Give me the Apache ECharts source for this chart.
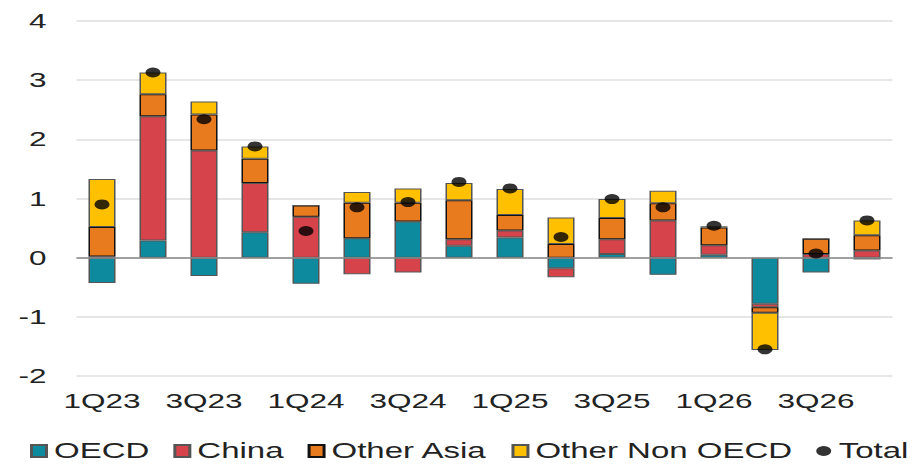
<!DOCTYPE html>
<html>
<head>
<meta charset="utf-8">
<script src="https://cdn.jsdelivr.net/npm/echarts@6/dist/echarts.min.js"></script>
<style>
  html, body { margin: 0; padding: 0; background: #fff; overflow: hidden; }
  #wrap { width: 918px; height: 464px; overflow: hidden; }
  #chart { width: 612px; height: 464px; transform: scaleX(1.5); transform-origin: 0 0; }
</style>
</head>
<body>
<div id="wrap"><div id="chart"></div></div>
<script>
const categories = ['1Q23','2Q23','3Q23','4Q23','1Q24','2Q24','3Q24','4Q24','1Q25','2Q25','3Q25','4Q25','1Q26','2Q26','3Q26','4Q26'];
const oecd         = [-0.43, 0.29, -0.31, 0.43, -0.44, 0.33, 0.61, 0.20, 0.34, -0.18, 0.06, -0.29, 0.05, -0.78, -0.25, -0.03];
const china        = [0.02, 2.10, 1.81, 0.83, 0.69, -0.28, -0.25, 0.11, 0.12, -0.15, 0.25, 0.63, 0.16, -0.06, 0.06, 0.12];
const otherAsia    = [0.50, 0.37, 0.61, 0.41, 0.19, 0.60, 0.32, 0.66, 0.26, 0.23, 0.36, 0.29, 0.30, -0.09, 0.26, 0.26];
const otherNonOECD = [0.81, 0.37, 0.22, 0.21, 0.00, 0.18, 0.24, 0.29, 0.44, 0.45, 0.32, 0.21, 0.02, -0.63, 0.00, 0.25];
const total        = [0.90, 3.13, 2.34, 1.88, 0.45, 0.85, 0.94, 1.28, 1.17, 0.35, 0.99, 0.85, 0.54, -1.55, 0.07, 0.63];
const yMin = -2, yMax = 4, yStep = 1;

const FONT = "'Liberation Sans', Arial, sans-serif";
const chart = echarts.init(document.getElementById('chart'), null, { renderer: 'svg' });

function barSeries(name, data, color, border) {
  return {
    name: name, type: 'bar', stack: 'all', data: data, barWidth: '53%',
    itemStyle: { color: color, borderColor: border, borderWidth: 1 },
    emphasis: { disabled: true }
  };
}

const series = [
  barSeries('OECD', oecd, '#0e8a9e', '#555'),
  barSeries('China', china, '#d6434a', '#555'),
  barSeries('Other Asia', otherAsia, '#e97b1f', '#111'),
  barSeries('Other Non OECD', otherNonOECD, '#ffc000', '#555'),
  {
    name: 'Total', type: 'scatter', data: total, symbol: 'circle', symbolSize: 10,
    itemStyle: { color: '#000' }, z: 5,
    emphasis: { disabled: true }
  }
];
series[0].markLine = {
  silent: true, symbol: 'none', label: { show: false },
  lineStyle: { color: '#888', width: 1.5, type: 'solid' },
  data: [{ yAxis: 0 }]
};

chart.setOption({
  animation: false,
  textStyle: { fontFamily: FONT },
  grid: { left: 51, right: 17, top: 21, bottom: 88, containLabel: false },
  legend: {
    left: 20, top: 440, width: 590, padding: 0, itemGap: 16, itemWidth: 10, itemHeight: 12,
    textStyle: { fontSize: 22, color: '#222', fontFamily: FONT },
    data: [
      { name: 'OECD', icon: 'rect' },
      { name: 'China', icon: 'rect' },
      { name: 'Other Asia', icon: 'rect' },
      { name: 'Other Non OECD', icon: 'rect' },
      { name: 'Total', icon: 'circle' }
    ]
  },
  xAxis: {
    type: 'category', data: categories,
    axisLine: { show: false, onZero: false },
    axisTick: { show: false },
    axisLabel: { interval: 1, fontSize: 21, color: '#222', margin: 14, fontFamily: FONT }
  },
  yAxis: {
    type: 'value', min: yMin, max: yMax, interval: yStep,
    axisLine: { show: false }, axisTick: { show: false },
    axisLabel: { fontSize: 21, color: '#222', margin: 20, fontFamily: FONT },
    splitLine: { lineStyle: { color: '#dedede', width: 1.5 } }
  },
  series: series
});
</script>
</body>
</html>
